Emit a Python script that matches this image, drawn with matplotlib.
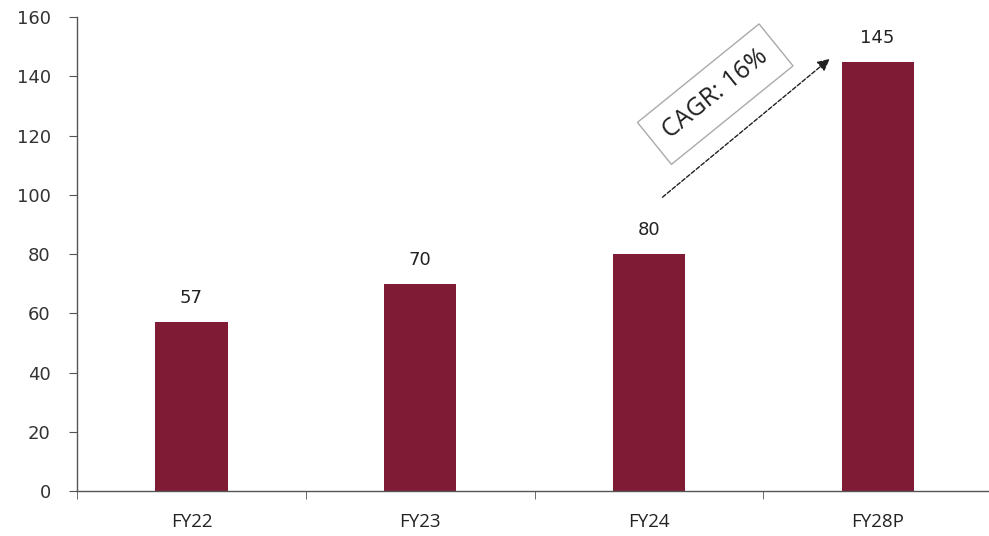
import matplotlib.pyplot as plt
import numpy as np

years = ['FY22', 'FY23', 'FY24', 'FY28P']
values = [57, 70, 80, 145]
cagr_text = 'CAGR: 16%'

bar_color = '#801B35'

fig = plt.figure(figsize=(9.89, 5.36), dpi=100)
ax = fig.add_axes([0.078, 0.084, 0.925, 0.884])

x = np.arange(len(years))
ax.bar(x, values, width=0.315, color=bar_color, zorder=2)

# value labels over each bar
for xi, v in zip(x, values):
    ax.text(xi, v + 5, str(v), ha='center', va='bottom', fontsize=13, color='#222222')

ax.set_xlim(-0.5, len(years) - 0.5)
ax.set_ylim(0, 160)
ax.set_yticks(range(0, 161, 20))
ax.tick_params(axis='y', direction='out', length=6, labelsize=13, colors='#333333',
               pad=13, color='#555555')

# category labels centred, ticks between categories
ax.set_xticks(x)
ax.set_xticklabels(years, fontsize=13.5, family='Open Sans', color='#222222')
ax.set_xticks(np.arange(-0.5, len(years) - 0.4, 1), minor=True)
ax.tick_params(axis='x', which='major', length=0, pad=16)
ax.tick_params(axis='x', which='minor', direction='out', length=6, color='#555555')

for side in ['top', 'right']:
    ax.spines[side].set_visible(False)
for side in ['left', 'bottom']:
    ax.spines[side].set_color('#555555')
    ax.spines[side].set_linewidth(1)

# CAGR arrow and rotated box
ax.annotate('', xy=(2.80, 146.5), xytext=(2.05, 98.6),
            arrowprops=dict(arrowstyle='-|>', linestyle=(0, (3, 1.5)), color='#222222',
                            lw=1, mutation_scale=18))
ax.text(2.29, 134, cagr_text, rotation=39, rotation_mode='anchor', ha='center', va='center',
        fontsize=18, family='Open Sans', color='#222222',
        bbox=dict(boxstyle='square,pad=0.58', facecolor='white', edgecolor='#aaaaaa', lw=1))

fig.savefig('out.png', dpi=100)
